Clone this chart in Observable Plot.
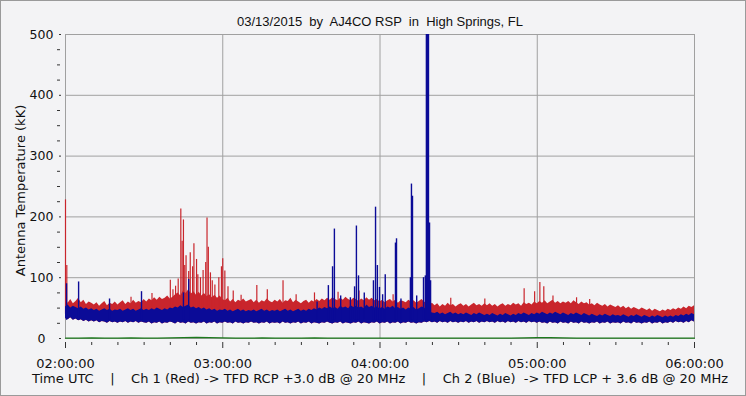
<!DOCTYPE html>
<html><head><meta charset="utf-8">
<script src="https://cdn.jsdelivr.net/npm/d3@7"></script>
<script src="https://cdn.jsdelivr.net/npm/@observablehq/plot@0.6"></script>
<style>
body{margin:0;background:#f3f3f5;}
#chart svg{display:block;outline:1px solid #9a9a9a;outline-offset:-1px;}
#chart svg text{white-space:pre;}
</style></head><body><div id="chart"></div>
<script>
const title = "03/13/2015  by  AJ4CO RSP  in  High Springs, FL";
const yLabel = "Antenna Temperature (kK)";
const caption = "Time UTC    |    Ch 1 (Red) -> TFD RCP +3.0 dB @ 20 MHz    |    Ch 2 (Blue)  -> TFD LCP + 3.6 dB @ 20 MHz";
const hourTicks = [0, 60, 120, 180, 240];
const hourLabels = ["02:00:00", "03:00:00", "04:00:00", "05:00:00", "06:00:00"];
const minorXTicks = [10,20,30,40,50,70,80,90,100,110,130,140,150,160,170,190,200,210,220,230];
const yTicks = [0, 100, 200, 300, 400, 500];
const yMinorTicks = [25,50,75,125,150,175,225,250,275,325,350,375,425,450,475];

// per-minute envelopes (minutes after 02:00 UTC = array index)
const redHi = [62,58,64,57,61,66,59,63,56,60,58,
55,59,53,57,61,54,58,56,60,55,
59,62,56,60,57,63,58,61,59,64,
60,65,62,67,63,68,64,66,70,65,
68,72,75,70,78,74,80,73,77,71,
76,70,74,69,72,67,71,66,70,64,
62,66,60,64,59,63,61,65,60,62,
64,59,63,58,62,60,65,61,59,63,
60,64,58,62,61,66,59,63,60,57,
61,63,58,62,60,64,61,65,62,66,
63,67,64,62,66,63,68,64,62,66,
64,61,65,62,67,63,66,62,64,60,
63,59,62,64,60,63,58,62,61,59,
63,60,62,58,61,64,60,57,55,58,
54,57,52,56,53,58,54,56,52,55,
57,53,56,52,55,58,54,56,53,57,
54,57,53,56,52,55,57,53,56,54,
58,55,57,53,59,56,58,55,60,57,
61,58,62,57,60,63,58,61,57,60,
58,61,57,62,59,56,60,57,59,55,
57,54,58,55,53,56,52,55,53,51,
54,50,53,49,52,48,51,49,47,50,
48,46,49,45,48,46,44,47,45,48,
46,49,47,50,48,52,49,53,51,54];
const blueHi = [52,55,50,53,51,49,52,48,50,47,49,
46,48,45,47,49,46,48,45,47,46,
48,45,47,49,46,48,45,47,49,46,
48,46,49,47,50,48,46,49,47,50,
49,52,50,54,51,53,55,50,52,49,
51,48,50,47,49,46,48,45,47,46,
48,45,47,44,46,48,45,47,44,46,
45,47,44,46,48,45,47,44,46,45,
47,44,46,48,45,47,44,46,48,45,
47,45,48,46,49,47,50,48,51,49,
52,49,51,48,53,50,52,49,54,51,
53,50,52,49,55,51,53,50,52,49,
51,48,52,50,53,49,51,48,50,47,
50,48,51,47,49,52,50,46,44,42,
41,43,40,42,39,41,43,40,42,39,
41,39,42,40,38,41,39,42,40,38,
40,38,41,39,37,40,38,41,39,37,
40,38,41,39,42,40,38,41,39,42,
40,43,41,39,42,40,43,41,39,42,
40,38,41,39,42,40,38,41,39,37,
40,38,36,39,37,40,38,36,39,37,
38,36,39,37,35,38,36,39,37,35,
38,36,34,37,35,38,36,34,37,35,
37,35,38,36,39,37,40,38,41,39];
const blueLo = [33,31,34,30,32,29,31,28,30,27,29,
27,29,26,28,27,25,28,26,27,25,
27,26,28,25,27,26,28,25,27,26,
25,27,24,26,25,27,24,26,25,27,
26,24,27,25,26,24,27,25,26,24,
26,25,27,24,26,25,27,24,26,25,
27,25,26,24,27,25,26,24,26,25,
27,25,26,24,26,25,27,24,26,25,
26,24,27,25,26,24,26,25,27,24,
26,25,27,24,26,25,24,26,25,27,
25,24,26,25,27,24,26,25,24,26,
25,27,24,26,25,24,26,25,27,24,
26,25,27,24,26,25,27,24,26,25,
27,25,26,24,26,25,27,26,28,26,
27,25,28,26,27,25,28,26,27,25,
27,26,28,25,27,26,28,25,27,26,
28,26,27,25,28,26,27,25,28,26,
27,25,28,26,27,25,28,26,27,25,
27,25,26,24,27,25,26,24,27,25,
26,24,27,25,26,24,27,25,26,24,
26,25,27,24,26,25,27,24,26,25,
26,24,27,25,26,24,27,25,26,24,
26,25,27,24,26,25,27,24,26,25,
27,25,28,26,27,25,28,26,29,27];

// narrow spikes: minute, peak value
const redSpikeT = [0,0.5,25,33,40,41,42,43,44,44.5,45,45.5,46,47,47.6,48.5,49,50,50.5,51.5,52.5,53.5,54,54.5,55.3,56,57,58.5,59.5,60,60.8,62,64,67,73,77,83,88,95,104,112,125,147,160,175,179,181,182.5,186,195,200];
const redSpikeV = [228,120,68,74,96,80,86,98,213,160,195,120,136,110,141,118,156,130,105,100,112,125,198,150,108,95,88,100,118,131,111,85,78,71,87,80,95,72,75,76,78,72,66,65,82,77,92,85,70,67,64];
const blueSpikeT = [0.4,5,16.8,29,45,47,96,100.3,101.9,102.6,105,108.7,110.3,111,111.8,114,117.5,118.3,119,119.8,121,122,125.9,126.3,128,131.6,132,132.4,134,136.6,137.3,137.7,138.1,138.5,138.9,139.3];
const blueSpikeV = [90,93,65,77,75,97,60,87,118,180,70,67,85,185,103,75,95,216,120,84,72,105,157,164,65,100,254,234,70,100,103,500,500,500,190,95];

// ground-channel trace, every 5 minutes
const greenV = [0.5,0.5,1,0.5,0.5,1,0.5,0.5,1,1.5,2,1.5,1,0.5,0.5,1,0.5,0.5,0.5,1,0.5,0.5,0.5,0.5,0.5,0.5,0.5,0.5,0.5,0.5,0.5,0.5,0.5,0.5,0.5,1,1.5,1.5,1,0.5,0.5,0.5,0.5,0.5,0.5,0.5,0.5,0.5,0.5];

const RED = "#c9252c", BLUE = "#0b0b97", GREEN = "#1d7a1d", GRID = "#a0a0a0";

const band = redHi.map((v, i) => ({t: i, redHi: v, blueHi: blueHi[i], blueLo: blueLo[i]}));
const redSpikes = redSpikeT.map((t, i) => ({t, v: redSpikeV[i]}));
const blueSpikes = blueSpikeT.map((t, i) => ({t, v: blueSpikeV[i]}));
const green = greenV.map((v, i) => ({t: i * 5, v}));

const chart = Plot.plot({
  width: 746, height: 396,
  marginLeft: 65, marginRight: 52, marginTop: 34, marginBottom: 58,
  style: {background: "#f3f3f5", fontFamily: "DejaVu Sans", fontSize: "13px", color: "#111"},
  x: {domain: [0, 240], axis: null},
  y: {domain: [0, 500], axis: null},
  marks: [
    Plot.gridY([100, 200, 300, 400], {stroke: GRID, strokeOpacity: 1}),
    Plot.gridX([60, 120, 180], {stroke: GRID, strokeOpacity: 1}),
    Plot.frame({stroke: GRID}),
    Plot.areaY(band, {x: "t", y1: "blueLo", y2: "redHi", fill: RED}),
    Plot.ruleX(redSpikes, {x: "t", y1: 40, y2: "v", stroke: RED, strokeWidth: 1.2}),
    Plot.areaY(band, {x: "t", y1: "blueLo", y2: "blueHi", fill: BLUE}),
    Plot.ruleX(blueSpikes, {x: "t", y1: 30, y2: "v", stroke: BLUE, strokeWidth: 1.4}),
    Plot.line(green, {x: "t", y: "v", stroke: GREEN, strokeWidth: 1.2}),
    Plot.axisX(hourTicks, {tickSize: 6, dy: 4, tickPadding: 10, stroke: "#333", fontSize: 13, tickFormat: d => hourLabels[hourTicks.indexOf(d)], label: null}),
    Plot.axisX(minorXTicks, {tickSize: 3, dy: 4, stroke: "#333", tickFormat: () => "", label: null}),
    Plot.axisY(yTicks, {tickSize: 2, dx: -4, tickPadding: 18, textAnchor: "middle", stroke: "#333", fontSize: 12.5, label: null}),
    Plot.axisY(yMinorTicks, {tickSize: 3, dx: -5, stroke: "#333", tickFormat: () => "", label: null}),
    Plot.text([title], {frameAnchor: "top", dy: -18, fontFamily: "Liberation Sans", fontSize: 13, fill: "#111"}),
    Plot.text([yLabel], {frameAnchor: "left", textAnchor: "middle", dx: -45, dy: 4, rotate: -90, fontSize: 13, fill: "#111"}),
    Plot.text([caption], {frameAnchor: "bottom", dy: 44, fontSize: 13, fill: "#111"})
  ]
});
document.getElementById("chart").append(chart);
</script></body></html>
